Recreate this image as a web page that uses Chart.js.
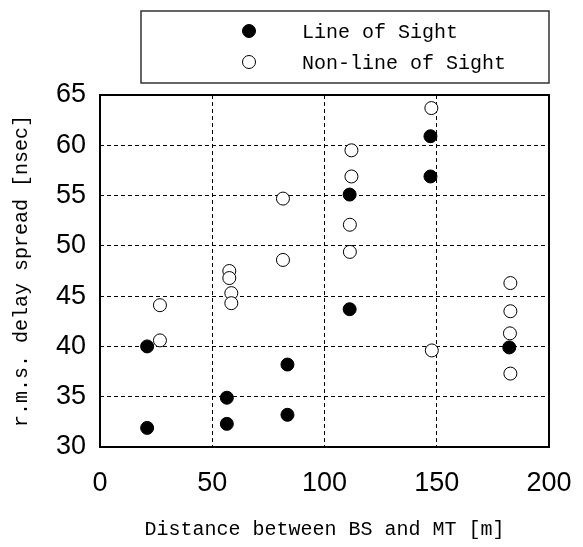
<!DOCTYPE html>
<html>
<head>
<meta charset="utf-8">
<script src="https://cdn.jsdelivr.net/npm/chart.js@4"></script>
<style>
  html, body { margin: 0; padding: 0; background: #fff; }
  #wrap { width: 583px; height: 547px; }
</style>
</head>
<body>
<div id="wrap"><canvas id="delayChart" width="583" height="547"></canvas></div>
<script>
// distance [m] / rms delay spread [nsec]
const LOS_LABEL = "Line of Sight";
const NLOS_LABEL = "Non-line of Sight";
const losDist = [21, 21, 56.5, 56.5, 83.5, 83.5, 111.2, 111.2, 147.2, 147.2, 182.3];
const losDelay = [31.9, 40.0, 34.9, 32.3, 38.2, 33.2, 55.1, 43.7, 60.9, 56.9, 39.9];
const nlosDist = [26.7, 26.7, 57.6, 57.6, 58.5, 58.5, 81.5, 81.5, 112, 112, 111.3, 111.3, 147.6, 147.8, 182.8, 182.8, 182.6, 182.8];
const nlosDelay = [44.1, 40.6, 47.5, 46.8, 45.3, 44.3, 48.6, 54.7, 59.5, 56.9, 52.1, 49.4, 63.7, 39.6, 46.3, 43.5, 41.3, 37.3];
const xTicks = [0, 50, 100, 150, 200];
const yTicks = [30, 35, 40, 45, 50, 55, 60, 65];

const MONO = "'Liberation Mono', 'DejaVu Sans Mono', monospace";
const SANS = "'Liberation Sans', Arial, sans-serif";

function toPoints(xs, ys) {
    return xs.map((x, i) => ({ x: x, y: ys[i] }));
}

// full frame round the plot
const frame = {
    id: "frame",
    afterDatasetsDraw(chart) {
        const { ctx, chartArea: a } = chart;
        ctx.save();
        ctx.strokeStyle = "#000";
        ctx.lineWidth = 2;
        ctx.strokeRect(a.left, a.top, a.right - a.left, a.bottom - a.top);
        ctx.restore();
    }
};

// boxed legend above the plot
const boxLegend = {
    id: "boxLegend",
    afterDraw(chart) {
        const ctx = chart.ctx;
        const a = chart.chartArea;
        ctx.save();
        ctx.strokeStyle = "#333";
        ctx.lineWidth = 1.5;
        ctx.strokeRect(141, 11, a.right - 141, 72);
        chart.data.datasets.forEach((ds, i) => {
            const y = 31 + i * 31;
            ctx.beginPath();
            ctx.arc(249, y, ds.pointRadius, 0, Math.PI * 2);
            ctx.fillStyle = ds.backgroundColor;
            ctx.fill();
            ctx.lineWidth = 1;
            ctx.strokeStyle = "#000";
            ctx.stroke();
            ctx.fillStyle = "#000";
            ctx.font = "20px " + MONO;
            ctx.textBaseline = "middle";
            ctx.textAlign = "left";
            ctx.fillText(ds.label, 302, y + 2);
        });
        ctx.restore();
    }
};

const ctx = document.getElementById("delayChart").getContext("2d");

new Chart(ctx, {
    type: "scatter",
    data: {
        datasets: [{
            label: LOS_LABEL,
            data: toPoints(losDist, losDelay),
            backgroundColor: "#000",
            borderColor: "#000",
            borderWidth: 1,
            pointRadius: 6.5
        }, {
            label: NLOS_LABEL,
            data: toPoints(nlosDist, nlosDelay),
            backgroundColor: "#fff",
            borderColor: "#000",
            borderWidth: 1,
            pointRadius: 6.5
        }]
    },
    options: {
        responsive: false,
        animation: false,
        layout: { padding: { left: 0, top: 95, right: 34, bottom: 5 } },
        plugins: {
            legend: { display: false },
            tooltip: { enabled: false }
        },
        scales: {
            x: {
                type: "linear",
                min: 0,
                max: 200,
                afterBuildTicks: (s) => { s.ticks = xTicks.map(v => ({ value: v })); },
                afterFit: (s) => {
                    s.height = 95;
                    s.paddingLeft = 0;
                    s.paddingRight = 0;
                },
                grid: {
                    color: "#000",
                    lineWidth: 1,
                    drawTicks: false
                },
                border: { display: false, dash: [4, 3] },
                ticks: {
                    color: "#000",
                    padding: 20,
                    font: { family: SANS, size: 27 }
                },
                title: {
                    display: true,
                    text: "Distance between BS and MT [m]",
                    color: "#000",
                    font: { family: MONO, size: 20 },
                    padding: { top: 0, bottom: 0 }
                }
            },
            y: {
                type: "linear",
                min: 30,
                max: 65,
                afterBuildTicks: (s) => { s.ticks = yTicks.map(v => ({ value: v })); },
                afterFit: (s) => {
                    s.width = 100;
                    s.paddingTop = 0;
                    s.paddingBottom = 0;
                },
                grid: {
                    color: "#000",
                    lineWidth: 1,
                    drawTicks: false
                },
                border: { display: false, dash: [4, 3] },
                ticks: {
                    color: "#000",
                    padding: 14,
                    font: { family: SANS, size: 27 }
                },
                title: {
                    display: true,
                    text: "r.m.s. delay spread [nsec]",
                    color: "#000",
                    font: { family: MONO, size: 20 },
                    padding: { top: 10, bottom: 0 }
                }
            }
        }
    },
    plugins: [frame, boxLegend]
});
</script>
</body>
</html>
